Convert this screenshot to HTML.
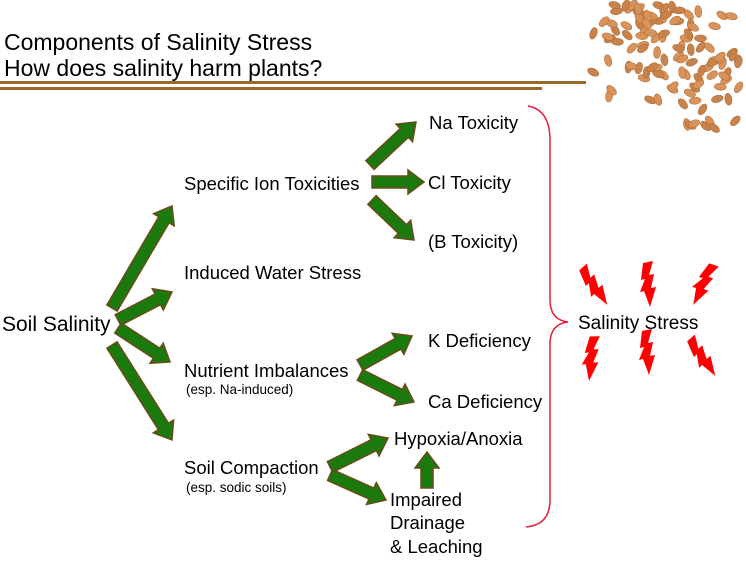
<!DOCTYPE html>
<html><head><style>
body{margin:0;background:#fff;width:746px;height:563px;overflow:hidden}
svg{display:block}
text{font-family:"Liberation Sans",Arial,sans-serif;fill:#000}
</style></head><body>
<svg id="s" width="746" height="563" viewBox="0 0 746 563" xmlns="http://www.w3.org/2000/svg">
<g id="grain"></g>
<text x="4" y="50" font-size="23">Components of Salinity Stress</text>
<text x="4" y="76" font-size="23">How does salinity harm plants?</text>
<rect x="0" y="81" width="586" height="3" fill="#9a6a28"/>
<rect x="0" y="87" width="542" height="3" fill="#9a6a28"/>
<g id="arrows"></g>
<g font-size="18.5">
<text x="2" y="331" font-size="21">Soil Salinity</text>
<text x="184" y="190">Specific Ion Toxicities</text>
<text x="184" y="279">Induced Water Stress</text>
<text x="184" y="377">Nutrient Imbalances</text>
<text x="186" y="394" font-size="13.5">(esp. Na-induced)</text>
<text x="184" y="474">Soil Compaction</text>
<text x="186" y="492" font-size="13.5">(esp. sodic soils)</text>
<text x="429" y="129">Na Toxicity</text>
<text x="428" y="189">Cl Toxicity</text>
<text x="428" y="248">(B Toxicity)</text>
<text x="428" y="347">K Deficiency</text>
<text x="428" y="408">Ca Deficiency</text>
<text x="394" y="445">Hypoxia/Anoxia</text>
<text x="390" y="506">Impaired</text>
<text x="390" y="529">Drainage</text>
<text x="390" y="553">&amp; Leaching</text>
<text x="578" y="329" font-size="19">Salinity Stress</text>
</g>
<path d="M528,106 Q550,110 550,140 L550,300 Q550,320 568,322 Q550,324 550,344 L550,500 Q550,525 526,527" fill="none" stroke="#e0203a" stroke-width="1.5"/>
<g id="bolts" fill="#f00"></g>
</svg>
<script>
var NS="http://www.w3.org/2000/svg";
function el(p,t,a){var e=document.createElementNS(NS,t);for(var k in a)e.setAttribute(k,a[k]);p.appendChild(e);return e;}
var A=[[112,308,172,206],[118,320,172,292],[118,328,170,362],[112,345,172,440],[370,165,416,122],[372,182,424,182],[372,200,414,240],[360,365,412,336],[360,375,414,402],[330,467,388,438],[330,475,386,500],[427,488,427,452]];
var g=document.getElementById('arrows');
A.forEach(function(a){var dx=a[2]-a[0],dy=a[3]-a[1],L=Math.sqrt(dx*dx+dy*dy),ang=Math.atan2(dy,dx)*180/Math.PI,h=16;
el(g,'path',{d:'M0,-6 L'+(L-h)+',-6 L'+(L-h)+',-12 L'+L+',0 L'+(L-h)+',12 L'+(L-h)+',6 L0,6 Z',fill:'#1a7a0e',stroke:'#6b4a1a','stroke-width':1.5,transform:'translate('+a[0]+','+a[1]+') rotate('+ang+')'});});
var b=document.getElementById('bolts');
function bolt(x,y,ang){el(b,'polygon',{points:'-5,-21 5,-23 1,-9 6,-10 3,4 8,3 2,23 -4,7 -8,8 -3,-5 -7,-4',transform:'translate('+x+','+y+') rotate('+ang+')'});}
bolt(594,286,-30);bolt(648,284,0);bolt(703,284,30);bolt(591,358,10);bolt(647,352,0);bolt(702,357,-30);
var gr=document.getElementById('grain'),s=7;function r(){s=(s*9301+49297)%233280;return s/233280;}
for(var i=0;i<150;i++){var x=590+r()*150,y=5+r()*125;if(x<600+ (y-20)*0.6 && y>40 && r()<0.7)continue;if(y>100&&x<680)continue;
el(gr,'ellipse',{cx:x,cy:y,rx:6,ry:3.5,fill:(r()<0.5?'#d9935a':'#c9824a'),stroke:'#a86a38','stroke-width':0.5,transform:'rotate('+(r()*180)+' '+x+' '+y+')'});}
</script>
</body></html>
